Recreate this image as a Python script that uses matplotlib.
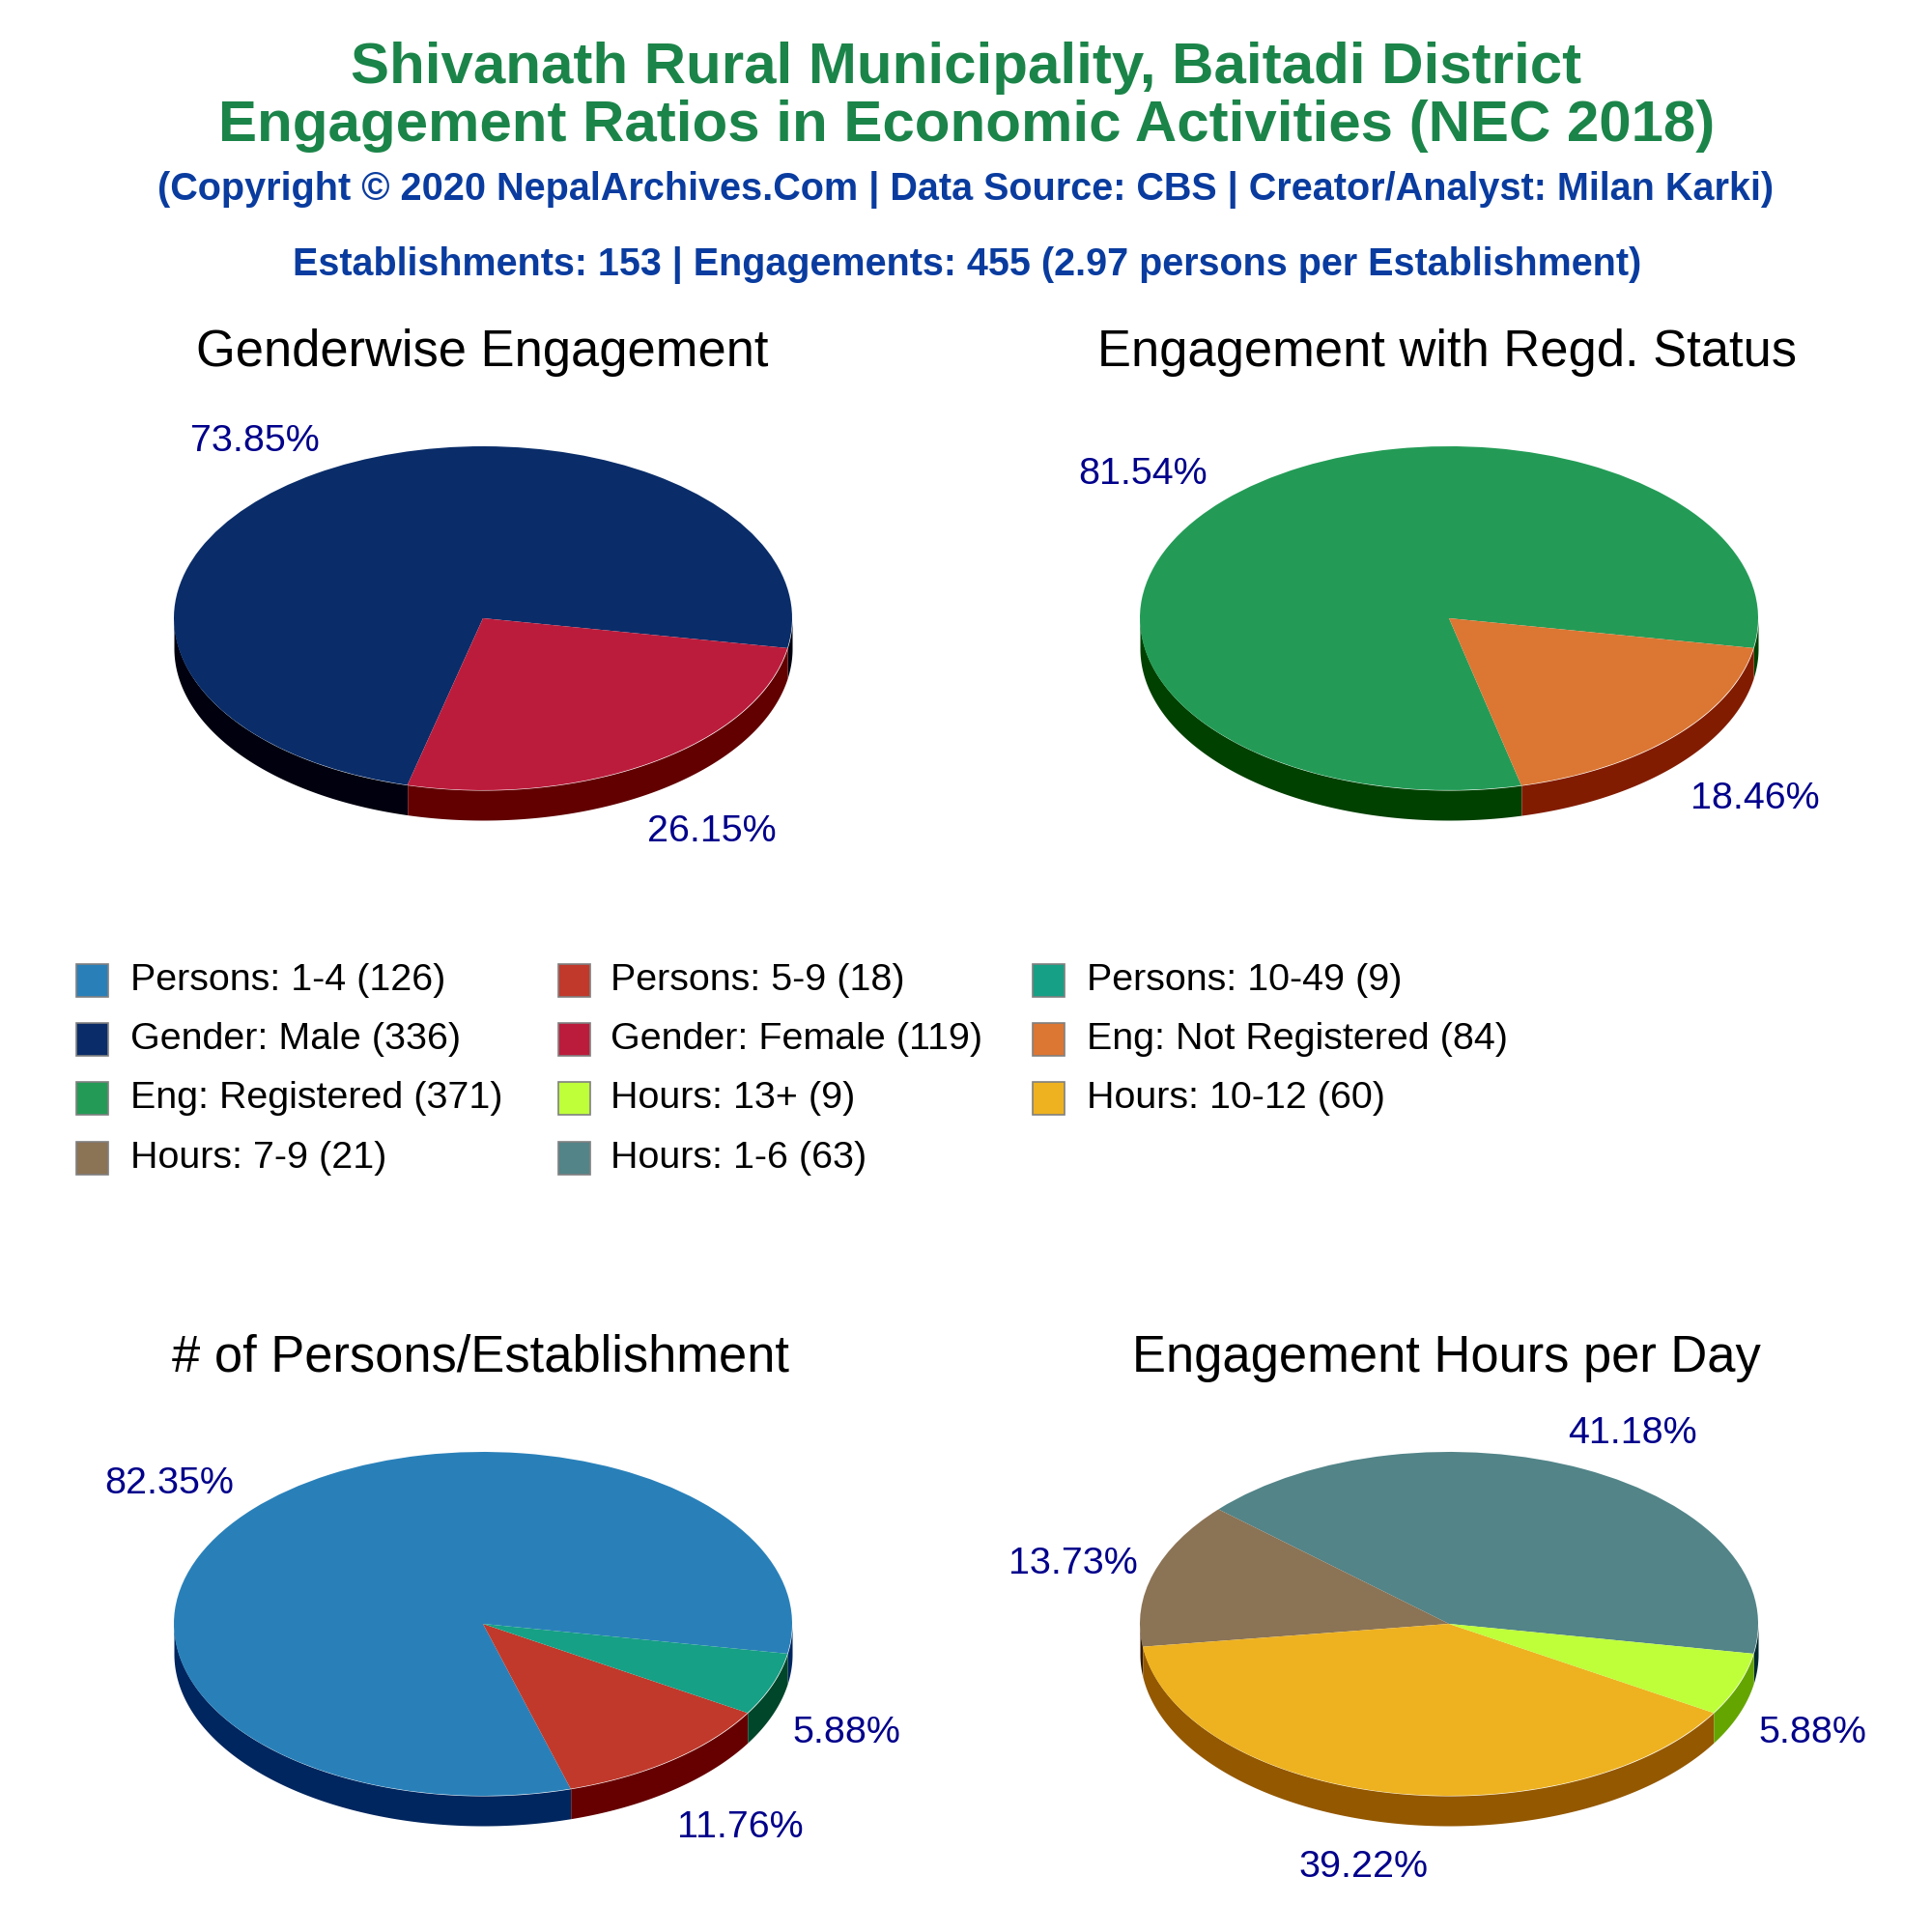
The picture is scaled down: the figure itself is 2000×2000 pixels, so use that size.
import numpy as np
import matplotlib
matplotlib.use('Agg')
import matplotlib.pyplot as plt
from matplotlib.colors import to_rgb
from matplotlib.patches import Rectangle

plt.rcParams['font.family'] = ['Liberation Sans', 'DejaVu Sans']

gender_labels = ['Gender: Male', 'Gender: Female']
gender_values = [336, 119]
gender_colors = ['#0A2D69', '#BC1C3C']

regd_labels = ['Eng: Registered', 'Eng: Not Registered']
regd_values = [371, 84]
regd_colors = ['#239B56', '#DC7633']

persons_labels = ['Persons: 1-4', 'Persons: 5-9', 'Persons: 10-49']
persons_values = [126, 18, 9]
persons_colors = ['#2980B9', '#C0392B', '#16A085']

hours_labels = ['Hours: 1-6', 'Hours: 7-9', 'Hours: 10-12', 'Hours: 13+']
hours_values = [63, 21, 60, 9]
hours_colors = ['#528488', '#8B7355', '#EEB220', '#BFFF3A']

# order the legend is read in, row by row
legend_labels = ['Persons: 1-4', 'Persons: 5-9', 'Persons: 10-49',
                 'Gender: Male', 'Gender: Female', 'Eng: Not Registered',
                 'Eng: Registered', 'Hours: 13+', 'Hours: 10-12',
                 'Hours: 7-9', 'Hours: 1-6']

SIZE = 2000
RX, RY = 320, 178      # pie radii, pixels
DEPTH = 31 / RY        # wall height in data units
START = -10


def fx(px):
    return px / SIZE


def fy(px):
    return 1 - px / SIZE


def wall_color(c):
    return tuple(max(v - 90 / 255, 0) for v in to_rgb(c))


def draw_walls(ax, values, colors):
    frac = np.array(values) / sum(values)
    edges = START + 360 * np.concatenate([[0], np.cumsum(frac)])
    for i, c in enumerate(colors):
        for lo, hi in [(-180, 0), (180, 360)]:
            a, b = max(edges[i], lo), min(edges[i + 1], hi)
            if b <= a:
                continue
            t = np.radians(np.linspace(a, b, 200))
            ax.fill_between(np.cos(t), np.sin(t), np.sin(t) - DEPTH,
                            color=wall_color(c), lw=0, zorder=1)


def draw_labels(ax, values):
    frac = np.array(values) / sum(values)
    edges = START + 360 * np.concatenate([[0], np.cumsum(frac)])
    for i, f in enumerate(frac):
        mid = np.radians((edges[i] + edges[i + 1]) / 2)
        c, s = np.cos(mid), np.sin(mid)
        # labels near the sides sit closer in
        if c > 0.9:
            k = 1.258
        elif c < -0.9:
            k = 1.272
        else:
            k = 1.36
        x = c * k
        y = 1.25 * s - (DEPTH if s < 0 else 0) - 0.02
        ax.text(x, y, '%.2f%%' % (f * 100), ha='center', va='center',
                fontsize=28.4, color='#00008B', clip_on=False)


def draw_pie(cx, cy, title, values, colors, title_x):
    w, h = 2 * RX * 1.6, 2 * RY * 1.6
    ax = fig.add_axes([fx(cx - w / 2), fy(cy + h / 2), w / SIZE, h / SIZE])
    draw_walls(ax, values, colors)
    wedges, _ = ax.pie(values, colors=colors, startangle=START, radius=1,
                       counterclock=True, frame=False, normalize=True)
    for wd in wedges:
        wd.set_zorder(2)
        wd.set_linewidth(0)
    draw_labels(ax, values)
    ax.set_aspect('auto')
    ax.set_xlim(-1.6, 1.6)
    ax.set_ylim(-1.6, 1.6)
    ax.axis('off')
    fig.text(fx(title_x), fy(cy - 275), title, ha='center',
             va='center', fontsize=37.8, color='black')


fig = plt.figure(figsize=(20, 20), dpi=100, facecolor='white')

green = '#1B8449'
blue = '#0A3C9F'
fig.text(fx(1000), fy(71), 'Shivanath Rural Municipality, Baitadi District',
         ha='center', va='center', fontsize=43.2, fontweight='bold', color=green)
fig.text(fx(1001), fy(131), 'Engagement Ratios in Economic Activities (NEC 2018)',
         ha='center', va='center', fontsize=43.2, fontweight='bold', color=green)
fig.text(fx(1000), fy(197),
         '(Copyright © 2020 NepalArchives.Com | Data Source: CBS | Creator/Analyst: Milan Karki)',
         ha='center', va='center', fontsize=28.55, fontweight='bold', color=blue)
fig.text(fx(1001), fy(274),
         'Establishments: 153 | Engagements: 455 (2.97 persons per Establishment)',
         ha='center', va='center', fontsize=28.45, fontweight='bold', color=blue)

draw_pie(500, 640, 'Genderwise Engagement', gender_values, gender_colors, 499)
draw_pie(1500, 640, 'Engagement with Regd. Status', regd_values, regd_colors, 1498)
draw_pie(500, 1681, '# of Persons/Establishment', persons_values, persons_colors, 497)
draw_pie(1500, 1681, 'Engagement Hours per Day', hours_values, hours_colors, 1497)

# legend, three columns filled row by row
all_labels = gender_labels + regd_labels + persons_labels + hours_labels
all_values = gender_values + regd_values + persons_values + hours_values
all_colors = gender_colors + regd_colors + persons_colors + hours_colors
lookup = {l: (v, c) for l, v, c in zip(all_labels, all_values, all_colors)}

col_x = [79, 578, 1069]
text_x = [135, 632, 1125]
row_y = [1015, 1076, 1137, 1199]
for i, name in enumerate(legend_labels):
    v, c = lookup[name]
    x, y = col_x[i % 3], row_y[i // 3]
    fig.patches.append(Rectangle((fx(x), fy(y + 17)), 33 / SIZE, 34 / SIZE,
                                 transform=fig.transFigure, facecolor=c,
                                 edgecolor='#808080', linewidth=1.2))
    fig.text(fx(text_x[i % 3]), fy(y), '%s (%d)' % (name, v), ha='left', va='center',
             fontsize=28.4, color='black')

fig.savefig('out.png', dpi=100)
